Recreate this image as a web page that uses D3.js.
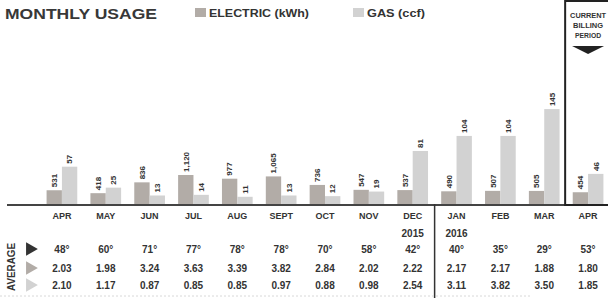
<!DOCTYPE html>
<html>
<head>
<meta charset="utf-8">
<script src="https://cdn.jsdelivr.net/npm/d3@7"></script>
<style>
html, body { margin: 0; padding: 0; background: #fff; }
svg { display: block; font-family: "Liberation Sans", Arial, sans-serif; }
</style>
</head>
<body>
<div id="chart"></div>
<script>
// billing periods, one per bar group
const periods = ["2015-04", "2015-05", "2015-06", "2015-07", "2015-08", "2015-09", "2015-10",
    "2015-11", "2015-12", "2016-01", "2016-02", "2016-03", "2016-04"];
const monthLabels = ["APR", "MAY", "JUN", "JUL", "AUG", "SEPT", "OCT", "NOV", "DEC", "JAN", "FEB", "MAR", "APR"];
const yearLabels = ["", "", "", "", "", "", "", "", "2015", "2016", "", "", ""];

// usage
const electric = [531, 418, 836, 1120, 977, 1065, 736, 547, 537, 490, 507, 505, 454];
const gas = [57, 25, 13, 14, 11, 13, 12, 19, 81, 104, 104, 145, 46];

// averages table
const avgTemp = ["48°", "60°", "71°", "77°", "78°", "78°", "70°", "58°", "42°", "40°", "35°", "29°", "53°"];
const avgElectric = ["2.03", "1.98", "3.24", "3.63", "3.39", "3.82", "2.84", "2.02", "2.22", "2.17", "2.17", "1.88", "1.80"];
const avgGas = ["2.10", "1.17", "0.87", "0.85", "0.85", "0.97", "0.88", "0.98", "2.54", "3.11", "3.82", "3.50", "1.85"];

const styles = {
    width: 608,
    height: 298,
    baseY: 204,
    plotTop: 60,
    elecMax: 5560,
    gasMax: 220,
    elecColor: "#b2aca7",
    gasColor: "#d2d2d2",
    ink: "#333"
};

const svg = d3.select("#chart").append("svg")
    .attr("width", styles.width)
    .attr("height", styles.height);

const x = d3.scaleBand()
    .domain(periods)
    .range([40, 610])
    .paddingInner(0.3)
    .paddingOuter(0.15);

const sub = d3.scaleBand()
    .domain(["electric", "gas"])
    .range([0, x.bandwidth()]);

const yElec = d3.scaleLinear().domain([0, styles.elecMax]).range([styles.baseY, styles.plotTop]);
const yGas = d3.scaleLinear().domain([0, styles.gasMax]).range([styles.baseY, styles.plotTop]);

const rows = periods.map((p, i) => ({ period: p, electric: electric[i], gas: gas[i] }));

// title + legend
svg.append("text")
    .attr("x", 5).attr("y", 19)
    .attr("font-size", 15).attr("font-weight", "bold")
    .attr("fill", "#383838")
    .attr("textLength", 152).attr("lengthAdjust", "spacingAndGlyphs")
    .text("MONTHLY USAGE");

const legend = [
    { label: "ELECTRIC (kWh)", color: styles.elecColor, x: 195, w: 100 },
    { label: "GAS (ccf)", color: styles.gasColor, x: 353, w: 58 }
];
const lg = svg.selectAll(".legend").data(legend).enter().append("g")
    .attr("class", "legend")
    .attr("transform", d => `translate(${d.x},8)`);
lg.append("rect").attr("width", 11).attr("height", 9).attr("fill", d => d.color);
lg.append("text")
    .attr("x", 14).attr("y", 9)
    .attr("font-size", 11).attr("font-weight", "bold")
    .attr("fill", styles.ink)
    .attr("textLength", d => d.w).attr("lengthAdjust", "spacingAndGlyphs")
    .text(d => d.label);

// bars
const groups = svg.selectAll(".month").data(rows).enter().append("g")
    .attr("class", "month")
    .attr("transform", d => `translate(${x(d.period)},0)`);

groups.append("rect")
    .attr("x", sub("electric"))
    .attr("width", sub.bandwidth())
    .attr("y", d => yElec(d.electric))
    .attr("height", d => styles.baseY - yElec(d.electric))
    .attr("fill", styles.elecColor);

groups.append("rect")
    .attr("x", sub("gas"))
    .attr("width", sub.bandwidth())
    .attr("y", d => yGas(d.gas))
    .attr("height", d => styles.baseY - yGas(d.gas))
    .attr("fill", styles.gasColor);

const fmt = d3.format(",");
groups.append("text")
    .attr("transform", d => `translate(${sub("electric") + sub.bandwidth() / 2},${yElec(d.electric) - 3}) rotate(-90)`)
    .attr("dy", "0.35em")
    .attr("font-size", 8).attr("font-weight", "bold").attr("fill", styles.ink)
    .text(d => fmt(d.electric));

groups.append("text")
    .attr("transform", d => `translate(${sub("gas") + sub.bandwidth() / 2},${yGas(d.gas) - 3}) rotate(-90)`)
    .attr("dy", "0.35em")
    .attr("font-size", 8).attr("font-weight", "bold").attr("fill", styles.ink)
    .text(d => d.gas);

// baseline + month axis
svg.append("line")
    .attr("x1", 7).attr("x2", styles.width)
    .attr("y1", styles.baseY + 1).attr("y2", styles.baseY + 1)
    .attr("stroke", "#444").attr("stroke-width", 2);

const axis = svg.append("g")
    .attr("transform", `translate(0,${styles.baseY})`)
    .call(d3.axisBottom(x).tickSize(0).tickPadding(9).tickFormat((d, i) => monthLabels[i]));
axis.select(".domain").remove();
axis.selectAll("text")
    .attr("font-family", "Liberation Sans, Arial, sans-serif")
    .attr("font-size", 9).attr("font-weight", "bold").attr("fill", styles.ink);

svg.selectAll(".year").data(periods.filter((p, i) => yearLabels[i])).enter().append("text")
    .attr("class", "year")
    .attr("x", d => x(d) + x.bandwidth() / 2)
    .attr("y", 237)
    .attr("text-anchor", "middle")
    .attr("font-size", 10).attr("font-weight", "bold").attr("fill", styles.ink)
    .text(d => yearLabels[periods.indexOf(d)]);

// year separator
const gap = x.step() * x.paddingInner() / 2;
const sepX = x("2016-01") - gap;
svg.append("line")
    .attr("x1", sepX).attr("x2", sepX)
    .attr("y1", styles.baseY).attr("y2", styles.height)
    .attr("stroke", styles.ink).attr("stroke-width", 1.5);

// current billing period box
const boxX = x(periods[periods.length - 1]) - gap - 1;
svg.append("rect")
    .attr("x", boxX).attr("y", 1)
    .attr("width", styles.width - boxX + 10)
    .attr("height", styles.baseY)
    .attr("fill", "none").attr("stroke", "#222").attr("stroke-width", 2);

const boxCx = x(periods[periods.length - 1]) + x.bandwidth() / 2;
svg.selectAll(".current").data(["CURRENT", "BILLING", "PERIOD"]).enter().append("text")
    .attr("class", "current")
    .attr("x", boxCx).attr("y", (d, i) => 18 + i * 10)
    .attr("text-anchor", "middle")
    .attr("font-size", 7).attr("font-weight", "bold").attr("fill", styles.ink)
    .attr("textLength", (d, i) => [36, 30, 26][i]).attr("lengthAdjust", "spacingAndGlyphs")
    .text(d => d);

svg.append("path")
    .attr("d", `M${boxCx - 16},46 L${boxCx + 16},46 L${boxCx},54 Z`)
    .attr("fill", "#222");

// averages table
const tableRows = [
    { values: avgTemp, y: 253, color: "#333" },
    { values: avgElectric, y: 272, color: styles.elecColor },
    { values: avgGas, y: 289, color: styles.gasColor }
];

svg.append("text")
    .attr("transform", "translate(15,267) rotate(-90)")
    .attr("text-anchor", "middle")
    .attr("font-size", 10).attr("font-weight", "bold").attr("fill", styles.ink)
    .attr("textLength", 48).attr("lengthAdjust", "spacingAndGlyphs")
    .text("AVERAGE");

const tri = d3.symbol().type(d3.symbolTriangle).size(80);
svg.selectAll(".marker").data(tableRows).enter().append("path")
    .attr("class", "marker")
    .attr("transform", d => `translate(30,${d.y - 4}) rotate(90)`)
    .attr("d", tri)
    .attr("fill", d => d.color);

tableRows.forEach(r => {
    svg.append("g").selectAll("text").data(periods).enter().append("text")
        .attr("x", d => x(d) + x.bandwidth() / 2)
        .attr("y", r.y)
        .attr("text-anchor", "middle")
        .attr("font-size", 10).attr("font-weight", "bold").attr("fill", styles.ink)
        .text((d, i) => r.values[i]);
});

svg.append("line")
    .attr("x1", 0).attr("x2", 530)
    .attr("y1", 296).attr("y2", 296)
    .attr("stroke", "#d8d8d8").attr("stroke-dasharray", "2,2");
</script>
</body>
</html>
